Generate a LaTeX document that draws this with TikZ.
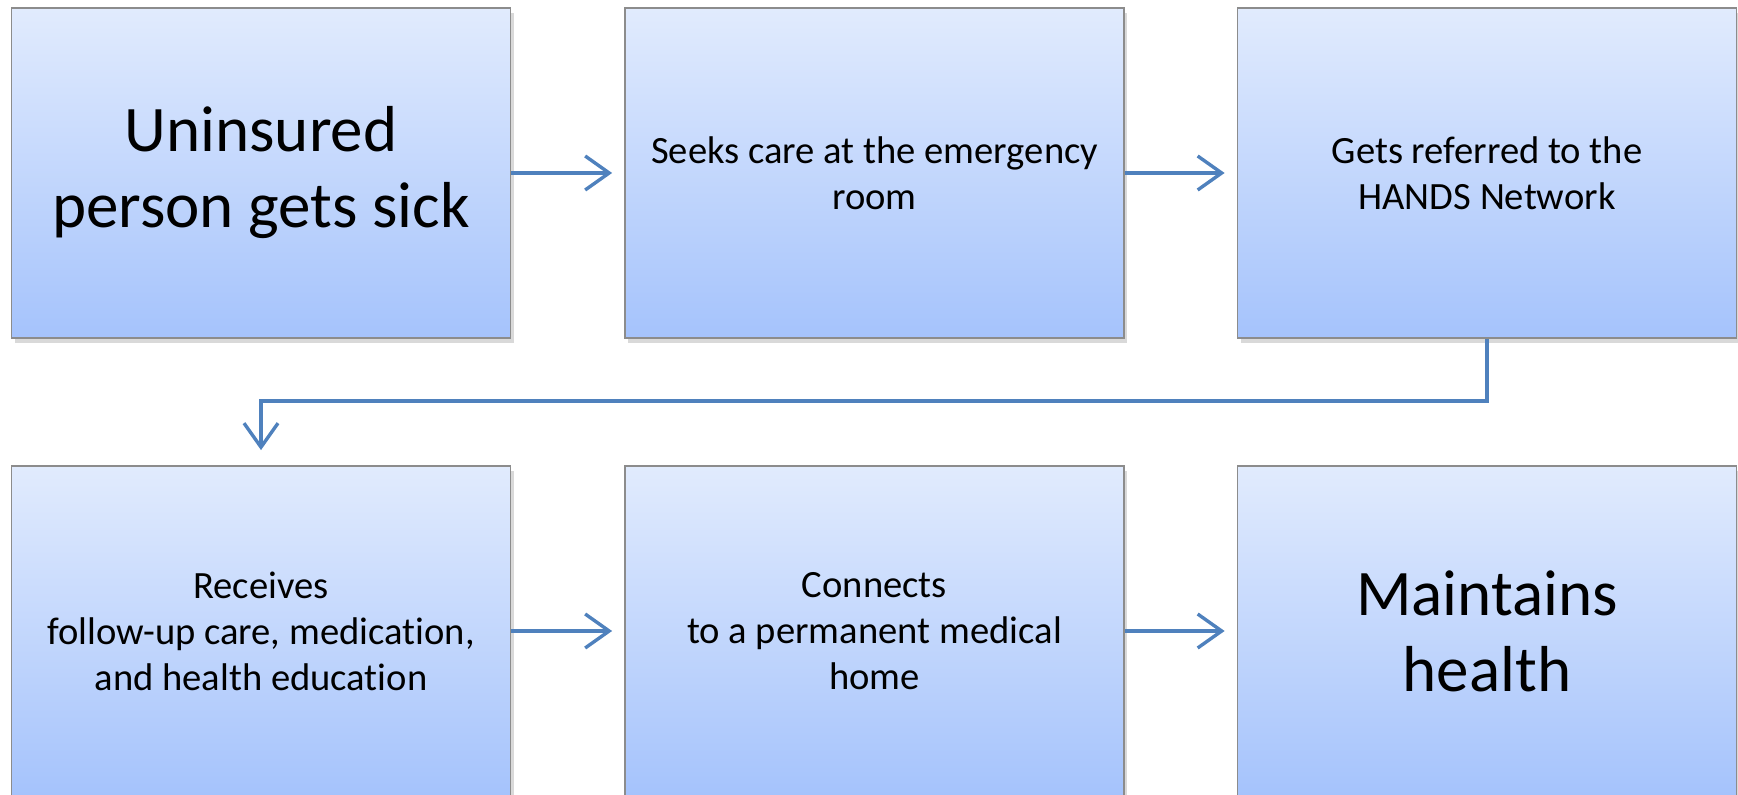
\documentclass[tikz,border=0pt]{standalone}
\usepackage{fontspec}
\setmainfont{Carlito}[Ligatures=NoCommon]
\usetikzlibrary{arrows.meta,shadows}
\definecolor{boxtop}{HTML}{E1EBFD}
\definecolor{boxbottom}{HTML}{A5C3FC}
\definecolor{flowblue}{HTML}{4F81BD}
\tikzset{
	stepbox/.style={draw=gray!90, line width=0.9pt, top color=boxtop, bottom color=boxbottom,
		minimum width=249.5pt, minimum height=165pt, align=center, inner sep=0pt,
		drop shadow={shadow xshift=1.5pt, shadow yshift=-2.5pt, opacity=0.3}},
	smalltext/.style={font=\fontsize{19.3pt}{23pt}\selectfont},
	bigtext/.style={font=\fontsize{32.5pt}{38pt}\selectfont},
	flow/.style={flowblue, line width=1.7pt, -{Straight Barb[length=12pt, width=17pt, line width=1.7pt]}, shorten >=6pt}
}
\begin{document}
\begin{tikzpicture}[x=0.5pt, y=-0.5pt]
		\useasboundingbox (0, 0) rectangle (1738, 795);
		% top row
		\node[stepbox, bigtext] (sick) at (261, 173) {Uninsured\\person gets sick};
		\node[stepbox, smalltext] (er) at (874.5, 173) {Seeks care at the emergency\\room};
		\node[stepbox, smalltext] (hands) at (1487, 173) {Gets referred to the\\HANDS Network};
		% bottom row
		\node[stepbox, smalltext] (care) at (261, 631) {Receives\\follow-up care, medication,\\and health education};
		\node[stepbox, smalltext] (home) at (874.5, 631) {Connects\\to a permanent medical\\home};
		\node[stepbox, bigtext] (health) at (1487, 631) {Maintains\\health};
		% connectors
		\draw[flow] (sick) -- (er);
		\draw[flow] (er) -- (hands);
		\draw[flow, shorten >=7.5pt] (hands.south) -- ++(0, 62) -| (care.north);
		\draw[flow] (care) -- (home);
		\draw[flow] (home) -- (health);
	\end{tikzpicture}
\end{document}
